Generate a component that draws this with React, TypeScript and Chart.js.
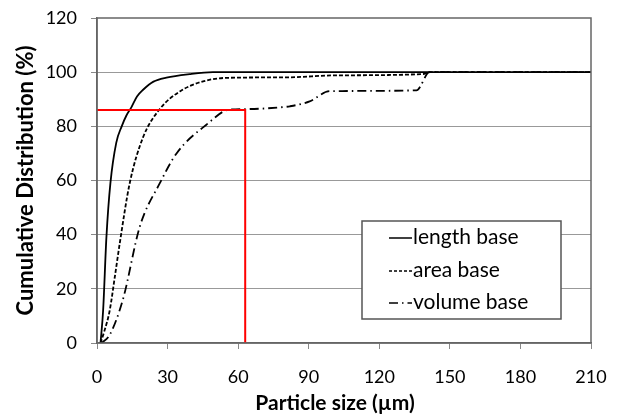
import React, { useEffect, useRef } from "react";
import { Chart, registerables } from "chart.js";

Chart.register(...registerables);

// ---- data ----
const xTicks = [0, 30, 60, 90, 120, 150, 180, 210];
const yTicks = [0, 20, 40, 60, 80, 100, 120];

const lengthX = [1.5, 2.6, 4, 5.7, 8.2, 10.5, 12.5, 14.6, 17, 19.6, 24, 29.5, 39.4, 49.3, 100, 210];
const lengthY = [0, 12, 39, 59, 74, 80, 84, 87, 91, 93.5, 96.5, 98, 99.3, 100, 100, 100];

const areaX = [1.5, 3, 5.4, 7.5, 9.7, 13.9, 19.6, 26.7, 35.2, 45.1, 55, 82, 100, 138.5, 141.4, 210];
const areaY = [0, 4, 12, 24, 37, 59, 76, 86.4, 92.9, 96.6, 97.9, 98.1, 98.8, 99.3, 100, 100];

const volumeX = [2, 5.4, 11, 18.2, 26.7, 33.8, 46.5, 56.4, 65, 79, 82, 90.4, 98.9, 135.8, 141.4, 210];
const volumeY = [0, 3, 16, 43, 59, 70, 80.6, 86.2, 86.4, 87.1, 87.4, 89.2, 93, 93.3, 100, 100];

const cutoffSize = 63;
const cutoffPercent = 86;

const seriesNames = ["length base", "area base", "volume base"];
const xTitle = "Particle size (µm)";
const yTitle = "Cumulative Distribution (%)";

const FONT = "Lato, 'Open Sans', sans-serif";

function toPoints(xs: number[], ys: number[]) {
  return xs.map((x, i) => ({ x, y: ys[i] }));
}

const legendPlugin = {
  id: "customLegend",
  afterDraw(chart: any) {
    const ctx = chart.ctx;
    const bx = 362, by = 221, bw = 199, bh = 98;
    ctx.save();
    ctx.fillStyle = "#ffffff";
    ctx.fillRect(bx, by, bw, bh);
    ctx.strokeStyle = "#555555";
    ctx.lineWidth = 1.5;
    ctx.strokeRect(bx, by, bw, bh);
    const rows = [237, 270, 302];
    const dashes = [[], [3, 2], [9, 4, 1.5, 4]];
    ctx.font = `21px ${FONT}`;
    ctx.textBaseline = "middle";
    ctx.fillStyle = "#000";
    rows.forEach((ry, i) => {
      ctx.beginPath();
      ctx.setLineDash(dashes[i]);
      ctx.lineWidth = 1.5;
      ctx.strokeStyle = "#000";
      ctx.moveTo(389, ry + 1);
      ctx.lineTo(412, ry + 1);
      ctx.stroke();
      ctx.setLineDash([]);
      ctx.fillText(seriesNames[i], 413, ry);
    });
    // x-axis title
    ctx.font = `bold 21px ${FONT}`;
    ctx.textAlign = "center";
    ctx.fillText(xTitle, 335, 403);
    ctx.restore();
  },
};

const borderPlugin = {
  id: "plotBorder",
  afterDatasetsDraw(chart: any) {
    const { ctx, chartArea } = chart;
    ctx.save();
    ctx.setLineDash([]);
    ctx.strokeStyle = "#666666";
    ctx.lineWidth = 1.5;
    ctx.strokeRect(chartArea.left, chartArea.top, chartArea.right - chartArea.left, chartArea.bottom - chartArea.top);
    ctx.restore();
  },
};

export default function App() {
  const ref = useRef<HTMLCanvasElement | null>(null);

  useEffect(() => {
    if (!ref.current) return;
    const chart = new Chart(ref.current, {
      type: "scatter",
      data: {
        datasets: [
          {
            label: "cutoff",
            data: [
              { x: 0, y: cutoffPercent },
              { x: cutoffSize, y: cutoffPercent },
              { x: cutoffSize, y: 0 },
            ],
            showLine: true,
            borderColor: "#ff0000",
            borderWidth: 2,
            pointRadius: 0,
            tension: 0,
          },
          {
            label: seriesNames[0],
            data: toPoints(lengthX, lengthY),
            showLine: true,
            borderColor: "#000",
            borderWidth: 1.8,
            pointRadius: 0,
            cubicInterpolationMode: "monotone",
          },
          {
            label: seriesNames[1],
            data: toPoints(areaX, areaY),
            showLine: true,
            borderColor: "#000",
            borderWidth: 1.8,
            borderDash: [4, 2],
            pointRadius: 0,
            cubicInterpolationMode: "monotone",
          },
          {
            label: seriesNames[2],
            data: toPoints(volumeX, volumeY),
            showLine: true,
            borderColor: "#000",
            borderWidth: 1.8,
            borderDash: [9, 4, 1.5, 4],
            pointRadius: 0,
            cubicInterpolationMode: "monotone",
          },
        ],
      },
      options: {
        animation: false,
        responsive: false,
        devicePixelRatio: 1,
        layout: { padding: { top: 18, right: 28, left: 0, bottom: 0 } },
        plugins: {
          legend: { display: false },
          tooltip: { enabled: false },
        },
        scales: {
          x: {
            type: "linear",
            min: 0,
            max: 210,
            afterBuildTicks(scale: any) {
              scale.ticks = xTicks.map((v) => ({ value: v }));
            },
            afterFit(scale: any) {
              scale.height = 73;
              scale.paddingLeft = 0;
              scale.paddingRight = 0;
            },
            ticks: {
              color: "#000",
              font: { family: FONT, size: 18 },
              padding: 17,
              maxRotation: 0,
              autoSkip: false,
            },
            grid: {
              drawOnChartArea: false,
              drawTicks: true,
              tickLength: 6,
              tickColor: "#888888",
            },
            border: { display: true, color: "#666666", width: 1.5 },
            title: { display: false, text: xTitle },
          },
          y: {
            type: "linear",
            min: 0,
            max: 120,
            afterBuildTicks(scale: any) {
              scale.ticks = yTicks.map((v) => ({ value: v }));
            },
            afterFit(scale: any) {
              scale.width = 97;
              scale.paddingTop = 0;
              scale.paddingBottom = 0;
            },
            ticks: {
              color: "#000",
              font: { family: FONT, size: 18 },
              padding: 14,
            },
            grid: {
              drawTicks: true,
              tickLength: 6,
              tickColor: "#888888",
              color: (c: any) =>
                c.tick && (c.tick.value === 0 || c.tick.value === 120) ? "rgba(0,0,0,0)" : "#333333",
              lineWidth: 1,
            },
            border: { display: true, color: "#666666", width: 1.5, dash: [1, 1] },
            title: {
              display: true,
              text: yTitle,
              color: "#000",
              font: { family: FONT, size: 22, weight: "bold" },
              padding: { top: 13, bottom: 0 },
            },
          },
        },
      } as any,
      plugins: [borderPlugin, legendPlugin],
    });
    return () => chart.destroy();
  }, []);

  return (
    <div style={{ position: "fixed", left: 0, top: 0, width: 619, height: 416, background: "#fff" }}>
      <canvas ref={ref} width={619} height={416} />
    </div>
  );
}
